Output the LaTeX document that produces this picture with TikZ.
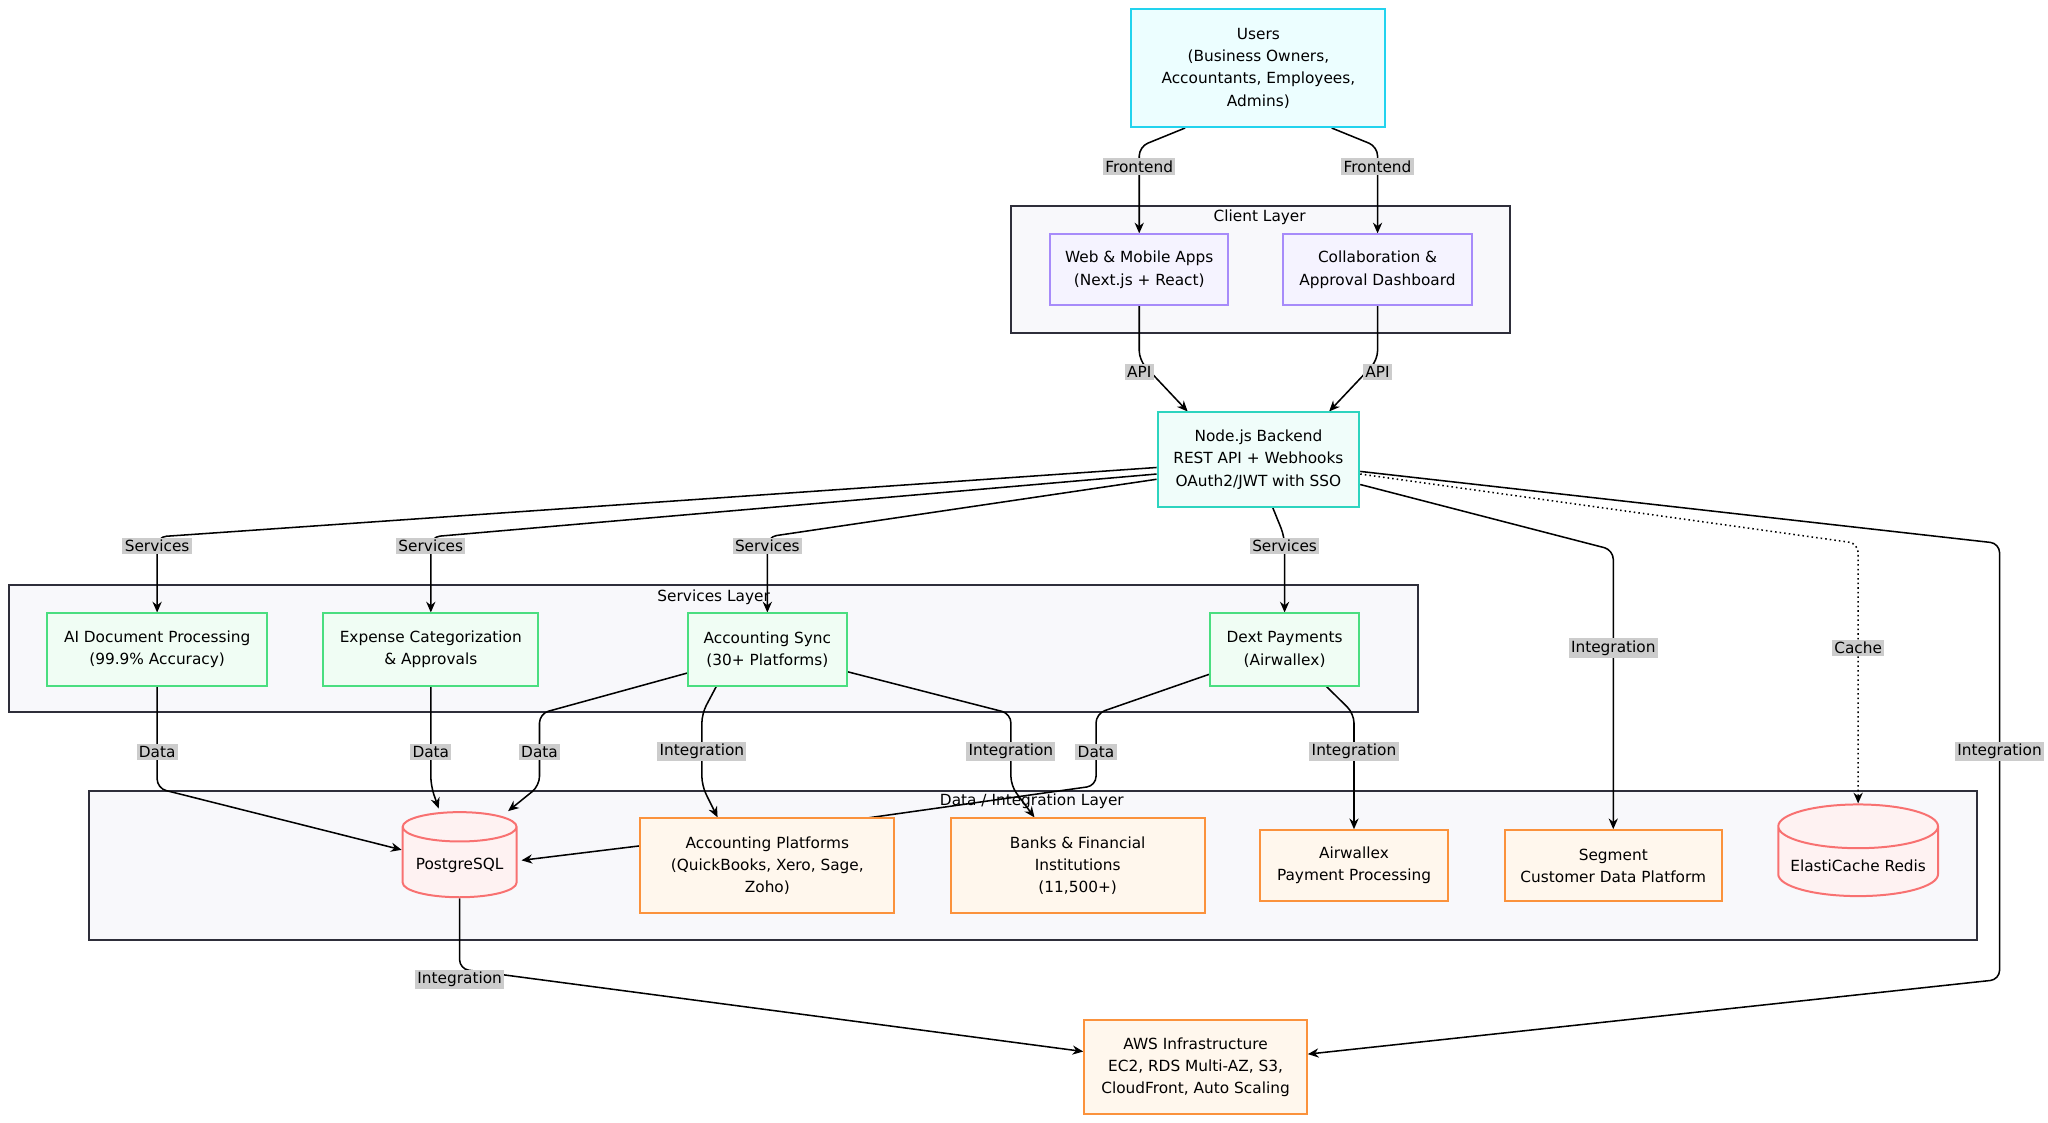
\documentclass[tikz,border=0pt]{standalone}
\usepackage{fontspec}
\setmainfont{DejaVu Sans}
\usetikzlibrary{shapes.geometric, calc, arrows.meta}
\definecolor{cyanB}{HTML}{22D3EE}\definecolor{cyanF}{HTML}{ECFEFF}
\definecolor{purB}{HTML}{A78BFA}\definecolor{purF}{HTML}{F5F3FF}
\definecolor{tealB}{HTML}{2DD4BF}\definecolor{tealF}{HTML}{F0FDFA}
\definecolor{grnB}{HTML}{4ADE80}\definecolor{grnF}{HTML}{F0FDF4}
\definecolor{orgB}{HTML}{FB923C}\definecolor{orgF}{HTML}{FFF7ED}
\definecolor{redB}{HTML}{F87171}\definecolor{redF}{HTML}{FEF2F2}
\definecolor{clusF}{HTML}{F8F8FB}\definecolor{lblF}{HTML}{CCCCCC}
\definecolor{clusB}{HTML}{2E2E3A}
\pgfdeclarelayer{clus}\pgfdeclarelayer{edge}
\pgfsetlayers{clus,edge,main}
\tikzset{
  box/.style 2 args={draw, line width=1.3pt, align=center, minimum width=#1*0.03cm, minimum height=#2*0.03cm, inner sep=1pt, font=\fontsize{10}{14.5}\selectfont},
  users/.style={fill=cyanF, draw=cyanB},
  client/.style={fill=purF, draw=purB},
  backend/.style={fill=tealF, draw=tealB},
  service/.style={fill=grnF, draw=grnB},
  ext/.style={fill=orgF, draw=orgB},
  db/.style 2 args={cylinder, shape border rotate=90, aspect=0.3, draw=redB, fill=redF, line width=1.3pt, minimum width=#1*0.03cm, minimum height=#2*0.03cm, font=\fontsize{10}{14.5}\selectfont},
  clus/.style={draw=clusB, line width=1.3pt, fill=clusF},
  clbl/.style={font=\fontsize{10}{12}\selectfont},
  arr/.style={-{Stealth[length=7pt,width=6pt]}, line width=1pt, rounded corners=6pt},
  lbl/.style={fill=lblF, inner sep=1.5pt, font=\fontsize{10}{12}\selectfont}
}
\begin{document}
\begin{tikzpicture}[x=0.03cm, y=-0.03cm]
\useasboundingbox (0,0) rectangle (1564,857);
% clusters
\begin{pgfonlayer}{clus}
  \draw[clus] (772,157) rectangle (1153,254);
  \draw[clus] (7,447) rectangle (1083,544);
  \draw[clus] (68,604) rectangle (1510,718);
\end{pgfonlayer}
\node[clbl] at (962,166) {Client Layer};
\node[clbl] at (545,456) {Services Layer};
\node[clbl] at (788,612) {Data / Integration Layer};

% nodes
\node[box={194}{90}, users] (users) at (961,52) {Users\\(Business Owners,\\Accountants, Employees,\\Admins)};
\node[box={136}{54}, client] (web) at (870,206) {Web \& Mobile Apps\\(Next.js + React)};
\node[box={144}{54}, client] (collab) at (1052,206) {Collaboration \&\\Approval Dashboard};
\node[box={154}{72}, backend] (backend) at (961,351) {Node.js Backend\\REST API + Webhooks\\OAuth2/JWT with SSO};
\node[box={168}{55}, service] (aidoc) at (120,496) {AI Document Processing\\(99.9\% Accuracy)};
\node[box={164}{55}, service] (expense) at (329,496) {Expense Categorization\\\& Approvals};
\node[box={121}{55}, service] (accsync) at (586,496) {Accounting Sync\\(30+ Platforms)};
\node[box={114}{55}, service] (dext) at (981,496) {Dext Payments\\(Airwallex)};
\node[db={87}{65}] (postgres) at (351,661) {PostgreSQL};
\node[box={194}{72}, ext] (accplat) at (586,661) {Accounting Platforms\\(QuickBooks, Xero, Sage,\\Zoho)};
\node[box={194}{72}, ext] (banks) at (823,661) {Banks \& Financial\\Institutions\\(11,500+)};
\node[box={143}{54}, ext] (airwallex) at (1034,661) {Airwallex\\Payment Processing};
\node[box={166}{54}, ext] (segment) at (1232,661) {Segment\\Customer Data Platform};
\node[db={122}{70}] (redis) at (1419,661) {ElastiCache Redis};
\node[box={170}{72}, ext] (aws) at (913,815) {AWS Infrastructure\\EC2, RDS Multi-AZ, S3,\\CloudFront, Auto Scaling};

% edges
\begin{pgfonlayer}{edge}
  \draw[arr] ($(users.south)+(-56,0)$) -- (870,112) -- (web.north);
  \node[lbl] at (870,127) {Frontend};
  \draw[arr] ($(users.south)+(56,0)$) -- (1052,112) -- (collab.north);
  \node[lbl] at (1052,127) {Frontend};
  \draw[arr] (web.south) -- (870,275) -- ($(backend.north)+(-54,0)$);
  \node[lbl] at (870,284) {API};
  \draw[arr] (collab.south) -- (1052,275) -- ($(backend.north)+(54,0)$);
  \node[lbl] at (1052,284) {API};
  \draw[arr] ($(backend.west)+(0,6)$) -- (120,410) -- (aidoc.north);
  \node[lbl] at (120,417) {Services};
  \draw[arr] ($(backend.west)+(0,11)$) -- (329,410) -- (expense.north);
  \node[lbl] at (329,417) {Services};
  \draw[arr] ($(backend.west)+(0,15)$) -- (586,410) -- (accsync.north);
  \node[lbl] at (586,417) {Services};
  \draw[arr] ($(backend.south)+(11,0)$) -- (981,410) -- (dext.north);
  \node[lbl] at (981,417) {Services};
  \draw[arr] ($(backend.east)+(0,19)$) -- (1232,420) -- (segment.north);
  \node[lbl] at (1232,495) {Integration};
  \draw[arr, dotted] ($(backend.east)+(0,11)$) -- (1419,415) -- (redis.north);
  \node[lbl] at (1419,495) {Cache};
  \draw[arr] ($(backend.east)+(0,9)$) -- (1527,415) -- (1527,748) -- ($(aws.east)+(0,-10)$);
  \node[lbl] at (1527,574) {Integration};
  \draw[arr] (aidoc.south) -- (120,602) -- ($(postgres.west)+(0,-12)$);
  \node[lbl] at (120,574) {Data};
  \draw[arr] (expense.south) -- (329,600) -- ($(postgres.north)+(-16,-2)$);
  \node[lbl] at (329,574) {Data};
  \draw[arr] ($(accsync.west)+(0,18)$) -- (412,545) -- (412,600) -- ($(postgres.north)+(37,0)$);
  \node[lbl] at (412,574) {Data};
  \draw[arr] ($(accsync.south)+(-39,0)$) -- (536,545) -- (536,600) -- ($(accplat.north)+(-38,0)$);
  \node[lbl] at (536,574) {Integration};
  \draw[arr] ($(accsync.east)+(0,17)$) -- (772,545) -- (772,600) -- ($(banks.north)+(-33,0)$);
  \node[lbl] at (772,574) {Integration};
  \draw[arr] ($(dext.west)+(0,19)$) -- (837,545) -- (837,600) -- (660,625) -- ($(postgres.east)+(3,-4)$);
  \node[lbl] at (837,574) {Data};
  \draw[arr] ($(dext.south)+(32,0)$) -- (1034,545) -- (airwallex.north);
  \node[lbl] at (1034,574) {Integration};
  \draw[arr] (postgres.south) -- (351,740) -- ($(aws.west)+(0,-12)$);
  \node[lbl] at (351,748) {Integration};
\end{pgfonlayer}
\end{tikzpicture}
\end{document}
